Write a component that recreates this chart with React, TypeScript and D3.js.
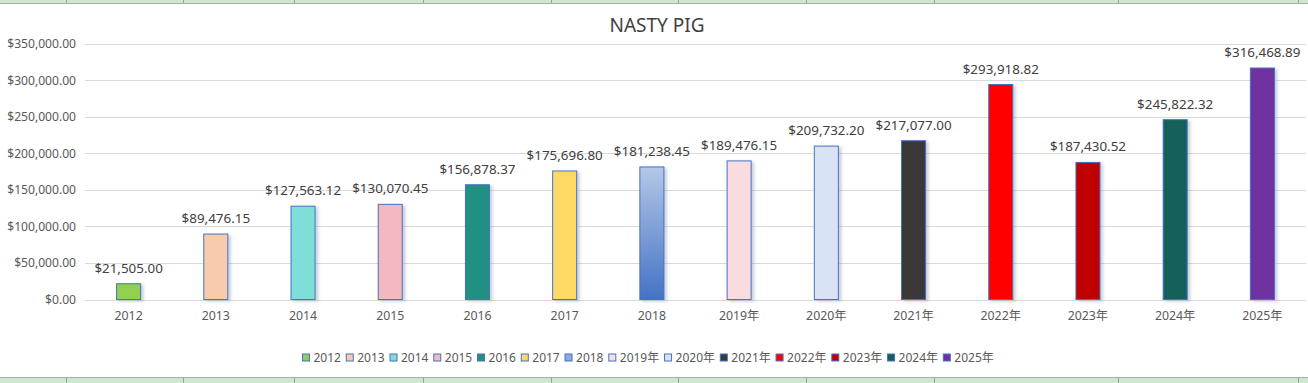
import React from "react";
import * as d3 from "d3";

const categories = ["2012", "2013", "2014", "2015", "2016", "2017", "2018", "2019年", "2020年", "2021年", "2022年", "2023年", "2024年", "2025年"];
const values = [21505.0, 89476.15, 127563.12, 130070.45, 156878.37, 175696.8, 181238.45, 189476.15, 209732.2, 217077.0, 293918.82, 187430.52, 245822.32, 316468.89];
const colors = ["#92D050", "#F8CBAD", "#80DED9", "#F4B8C0", "#238F83", "#FFD966", "url(#grad2018)", "#F9DBE0", "#DAE3F3", "#3A3838", "#FF0000", "#C00000", "#17605A", "#7030A0"];
const legendColors = ["#92D050", "#F8CBAD", "#80DED9", "#F4B8C0", "#238F83", "#FFD966", "#8FAADC", "#F9DBE0", "#DAE3F3", "#3A3838", "#FF0000", "#C00000", "#17605A", "#7030A0"];
const yTicks = [0, 50000, 100000, 150000, 200000, 250000, 300000, 350000];
const title = "NASTY PIG";
const sheetCols = [66, 183, 294, 423, 551, 678, 806, 934, 1118, 1298];

const W = 1308;
const H = 383;
const FONT = "'Noto Sans', 'Noto Sans CJK SC', sans-serif";

function measure(text: string, size: number) {
  const c = document.createElement("canvas").getContext("2d")!;
  c.font = `${size}px 'Noto Sans', 'Noto Sans CJK SC'`;
  return c.measureText(text).width;
}

export default function App() {
  const x = d3.scaleBand<string>().domain(categories).range([85, 1306]).paddingInner(0.713).paddingOuter(0.3565);
  const y = d3.scaleLinear().domain([0, 350000]).range([299.5, 43.5]);
  const money = (v: number) => "$" + d3.format(",.2f")(v);

  let lx = 302;
  const legendItems = categories.map((c, i) => {
    const w = measure(c, 12);
    const item = { c, i, x: lx };
    lx += 8 + 3.5 + w + 4.8;
    return item;
  });

  return (
    <svg width={W} height={H} style={{ position: "absolute", left: 0, top: 0, fontFamily: FONT }}>
      <defs>
        <linearGradient id="grad2018" x1="0" y1="0" x2="0" y2="1">
          <stop offset="0" stopColor="#B4C7E7" />
          <stop offset="1" stopColor="#4472C4" />
        </linearGradient>
        <filter id="shadow" x="-50%" y="-10%" width="200%" height="130%">
          <feDropShadow dx="2.5" dy="1.5" stdDeviation="1.6" floodColor="#8496B0" floodOpacity="0.45" />
        </filter>
      </defs>
      <rect x={0} y={0} width={W} height={H} fill="#fff" />
      {/* spreadsheet strips */}
      <rect x={0} y={0} width={W} height={3} fill="#CCE8CF" />
      <line x1={0} x2={W} y1={3.5} y2={3.5} stroke="#ABABAB" />
      <rect x={0} y={378} width={W} height={5} fill="#CCE8CF" />
      <line x1={0} x2={W} y1={377.5} y2={377.5} stroke="#ABABAB" />
      {sheetCols.map((c) => (
        <g key={c}>
          <line x1={c + 0.5} x2={c + 0.5} y1={0} y2={3} stroke="#9E9E9E" />
          <line x1={c + 0.5} x2={c + 0.5} y1={378} y2={383} stroke="#9E9E9E" />
        </g>
      ))}
      {/* title */}
      <text x={657} y={32} textAnchor="middle" fontSize={19} fill="#404040">{title}</text>
      {/* gridlines and y labels */}
      {yTicks.map((t) => (
        <g key={t}>
          <line x1={85} x2={1306} y1={Math.round(y(t)) + 0.5} y2={Math.round(y(t)) + 0.5} stroke="#D9D9D9" />
          <text x={76} y={y(t) + 4.5} textAnchor="end" fontSize={12.1} fill="#595959">{money(t)}</text>
        </g>
      ))}
      {/* bars */}
      {values.map((v, i) => {
        const cx = x(categories[i])!;
        const bw = x.bandwidth();
        return (
          <g key={i}>
            <rect x={cx + 0.5} y={y(v)} width={bw - 1} height={y(0) - y(v)} fill={colors[i]} stroke="#4472C4" strokeWidth={1} filter="url(#shadow)" />
            <text x={cx + bw / 2} y={y(v) - 11} textAnchor="middle" fontSize={13.4} fill="#404040">{money(v)}</text>
            <text x={cx + bw / 2} y={320} textAnchor="middle" fontSize={12.3} fill="#595959">{categories[i]}</text>
          </g>
        );
      })}
      {/* legend */}
      {legendItems.map((it) => (
        <g key={it.c}>
          <rect x={it.x + 0.5} y={354} width={7} height={7} fill={legendColors[it.i]} stroke="#4472C4" strokeWidth={1} />
          <text x={it.x + 11.5} y={361.5} fontSize={12} fill="#595959">{it.c}</text>
        </g>
      ))}
    </svg>
  );
}
